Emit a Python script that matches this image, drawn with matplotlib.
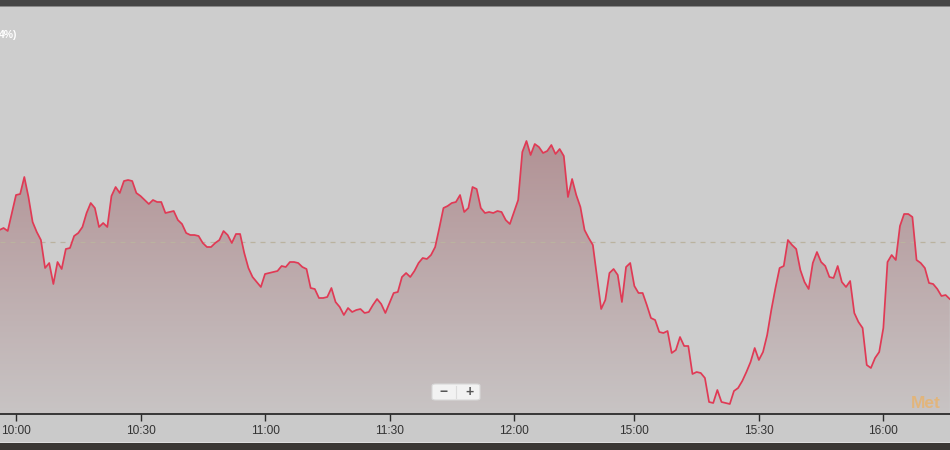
import numpy as np
import matplotlib
matplotlib.use("Agg")
import matplotlib.pyplot as plt
from matplotlib.patches import Polygon, Rectangle, FancyBboxPatch

plt.rcParams['font.family'] = ['Liberation Sans', 'DejaVu Sans']

# trading-minute index (0 = 10:00), one price per minute
start_minute = -4
prices = [
    25.12, 25.14, 25.11, 25.29, 25.47, 25.48, 25.65, 25.45, 25.20, 25.10,
    25.02, 24.74, 24.79, 24.58, 24.80, 24.73, 24.93, 24.94, 25.06, 25.09,
    25.15, 25.29, 25.39, 25.34, 25.15, 25.19, 25.15, 25.46, 25.55, 25.49,
    25.61, 25.62, 25.61, 25.49, 25.46, 25.42, 25.38, 25.42, 25.40, 25.40,
    25.29, 25.30, 25.31, 25.22, 25.18, 25.09, 25.07, 25.07, 25.06, 24.99,
    24.95, 24.95, 24.99, 25.02, 25.11, 25.07, 24.99, 25.08, 25.08, 24.89,
    24.74, 24.65, 24.60, 24.55, 24.68, 24.69, 24.70, 24.71, 24.76, 24.75,
    24.80, 24.80, 24.79, 24.75, 24.73, 24.54, 24.53, 24.44, 24.44, 24.45,
    24.54, 24.40, 24.35, 24.27, 24.34, 24.30, 24.32, 24.33, 24.29, 24.30,
    24.37, 24.43, 24.38, 24.29, 24.39, 24.49, 24.50, 24.65, 24.69, 24.65,
    24.71, 24.79, 24.84, 24.83, 24.87, 24.95, 25.14, 25.34, 25.36, 25.39,
    25.40, 25.47, 25.30, 25.34, 25.55, 25.53, 25.34, 25.29, 25.30, 25.29,
    25.31, 25.30, 25.22, 25.18, 25.30, 25.42, 25.90, 26.01, 25.87, 25.98,
    25.95, 25.89, 25.91, 25.97, 25.88, 25.93, 25.86, 25.45, 25.63, 25.47,
    25.35, 25.12, 25.04, 24.97, 24.65, 24.33, 24.42, 24.69, 24.73, 24.67,
    24.40, 24.75, 24.79, 24.56, 24.49, 24.49, 24.37, 24.24, 24.22, 24.10,
    24.09, 24.11, 23.89, 23.92, 24.05, 23.96, 23.96, 23.68, 23.70, 23.69,
    23.64, 23.40, 23.39, 23.52, 23.40, 23.39, 23.38, 23.51, 23.54, 23.61,
    23.70, 23.80, 23.94, 23.82, 23.90, 24.07, 24.32, 24.54, 24.74, 24.76,
    25.02, 24.97, 24.93, 24.72, 24.60, 24.53, 24.79, 24.90, 24.80, 24.76,
    24.65, 24.64, 24.76, 24.60, 24.55, 24.61, 24.29, 24.20, 24.14, 23.77,
    23.74, 23.84, 23.90, 24.14, 24.80, 24.87, 24.82, 25.16, 25.28, 25.28,
    25.25, 24.82, 24.79, 24.74, 24.59, 24.58, 24.53, 24.46, 24.47, 24.43,
]
prev_close = 25.00

tick_pos = [0, 30, 60, 90, 120, 149, 179, 209]
tick_labels = ['10:00', '10:30', '11:00', '11:30', '12:00', '15:00', '15:30', '16:00']

minutes = np.arange(start_minute, start_minute + len(prices))
prices = np.array(prices)

W, H = 950, 450
fig = plt.figure(figsize=(W / 100, H / 100), dpi=100)
fig.patch.set_facecolor('#cacaca')

ax = fig.add_axes([0, 36 / H, 1, 408 / H])
ax.set_facecolor('#cdcdcd')
xmin, xmax = -3.86, 225.06
ymin, ymax = 23.28, 27.36
ax.set_xlim(xmin, xmax)
ax.set_ylim(ymin, ymax)

# gradient fill under the line, clipped to the area polygon
verts = np.vstack([np.column_stack([minutes, prices]),
                   [[minutes[-1], ymin], [minutes[0], ymin]]])
clip = Polygon(verts, closed=True, facecolor='none', edgecolor='none')
ax.add_patch(clip)
g_top, g_bot = 26.02, ymin
top_c = np.array([178, 146, 149]) / 255
bot_c = np.array([200, 196, 196]) / 255
t = np.linspace(0, 1, 256)[:, None, None]
img = top_c * (1 - t) + bot_c * t
im = ax.imshow(img, extent=(xmin, xmax, g_bot, g_top), origin='upper',
               aspect='auto', zorder=1, interpolation='bilinear')
im.set_clip_path(clip)
ax.set_ylim(ymin, ymax)

ax.axhline(prev_close, color='#bab39f', lw=0.9, ls=(0, (4, 4)), zorder=2)
ax.plot(minutes, prices, color='#e03a55', lw=1.25, zorder=3,
        solid_joinstyle='round')

for s in ['top', 'left', 'right']:
    ax.spines[s].set_visible(False)
ax.spines['bottom'].set_color('#2b2b2b')
ax.spines['bottom'].set_linewidth(1.3)
ax.set_yticks([])
ax.set_xticks(tick_pos)
ax.set_xticklabels(tick_labels)
ax.tick_params(axis='x', direction='out', length=5, width=1, color='#2b2b2b',
               pad=3, labelsize=8.6, labelcolor='#333333')

# clipped legend text and watermark
fig.text(-1 / W, 1 - 35 / H, '4%)', color='white', fontsize=7.5, fontweight='bold',
         ha='left', va='center')
fig.text(911 / W, 1 - 403 / H, 'Met', color='#e9b26a', alpha=0.8,
         fontsize=12.5, fontweight='bold', ha='left', va='center')

# zoom buttons
btn = FancyBboxPatch((432 / W, 1 - 400 / H), 48 / W, 16 / H,
                     boxstyle='round,pad=0,rounding_size=0.004',
                     transform=fig.transFigure, facecolor='#f2f2f2',
                     edgecolor='#d8d8d8', lw=0.8)
fig.patches.append(btn)
fig.add_artist(plt.Line2D([456 / W, 456 / W], [1 - 398 / H, 1 - 386 / H],
                          transform=fig.transFigure, color='#dcdcdc', lw=0.8))
fig.text(444 / W, 1 - 392 / H, '\u2212', color='#555555', fontsize=10,
         fontweight='bold', ha='center', va='center')
fig.text(469 / W, 1 - 392 / H, '+', color='#555555', fontsize=10,
         fontweight='bold', ha='center', va='center')

# dark frame bars
fig.patches.append(Rectangle((0, 1 - 6 / H), 1, 6 / H, transform=fig.transFigure,
                             facecolor='#464646', edgecolor='none'))
fig.patches.append(Rectangle((0, 1 - 7 / H), 1, 1 / H, transform=fig.transFigure,
                             facecolor='#8a8a8a', edgecolor='none'))
fig.patches.append(Rectangle((0, 0), 1, 7 / H, transform=fig.transFigure,
                             facecolor='#3a3734', edgecolor='none'))
fig.patches.append(Rectangle((0, 7 / H), 1, 1 / H, transform=fig.transFigure,
                             facecolor='#dedede', edgecolor='none'))

fig.savefig('out.png', dpi=100, facecolor=fig.get_facecolor())
